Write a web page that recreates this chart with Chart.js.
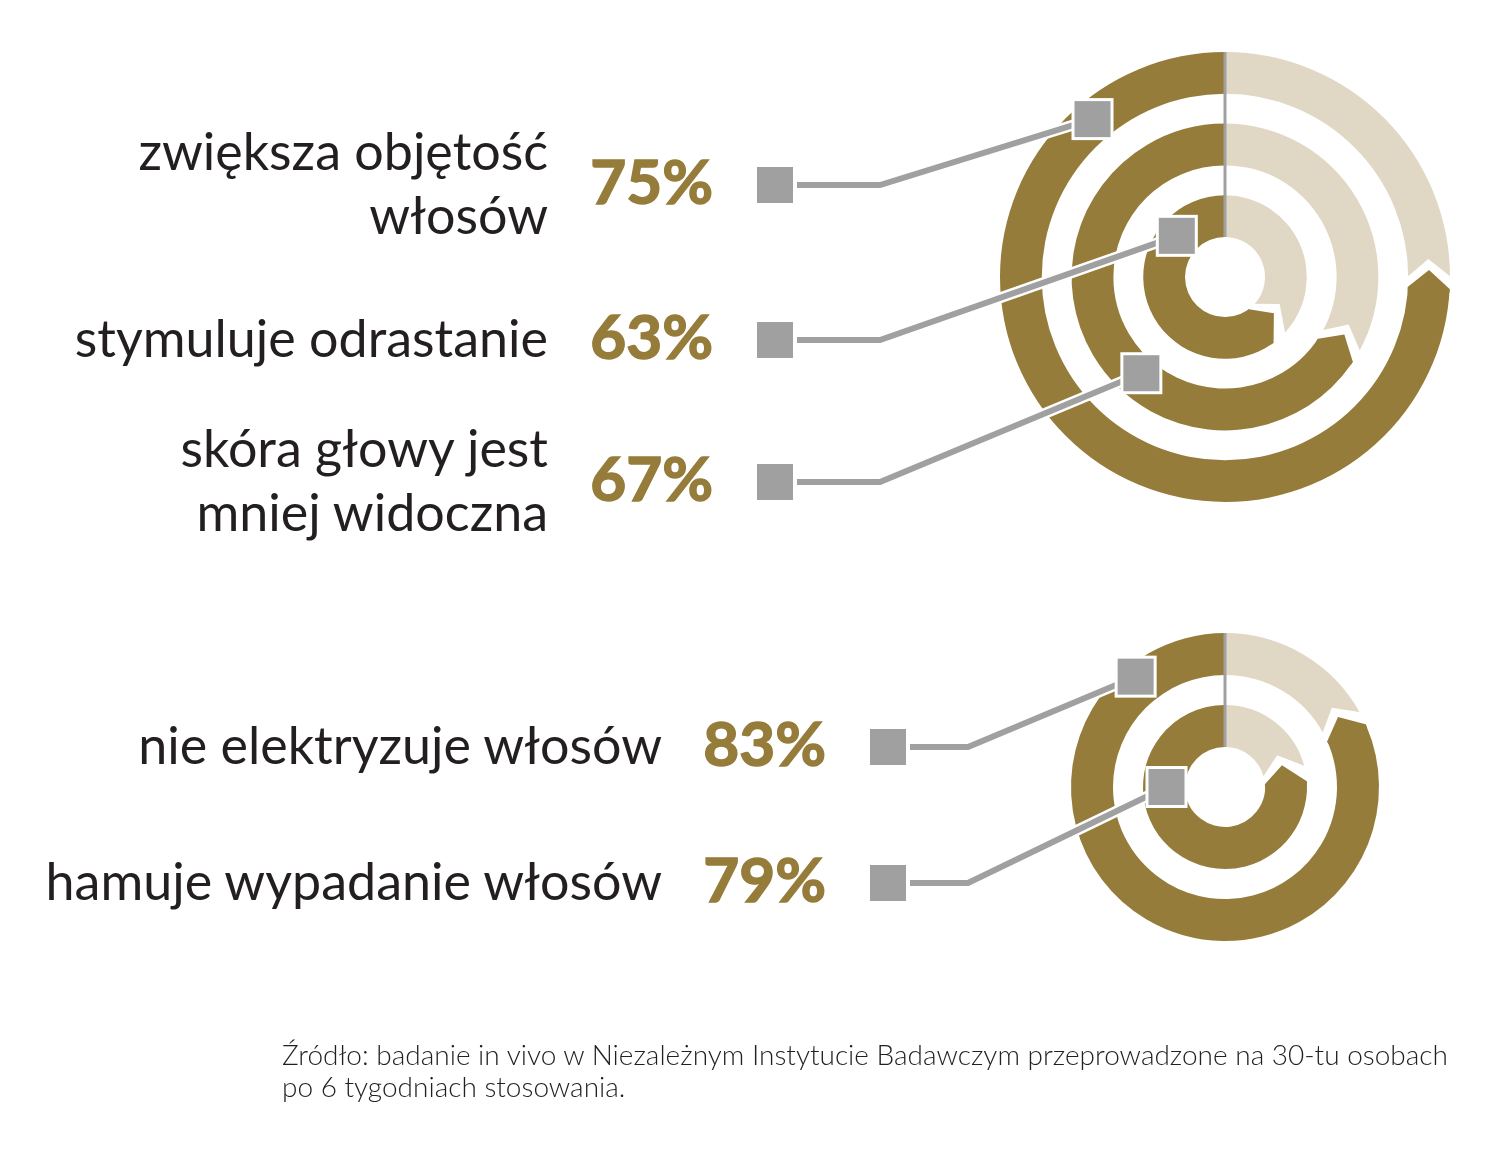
<!DOCTYPE html>
<html>
<head>
<meta charset="utf-8">
<script src="https://cdn.jsdelivr.net/npm/chart.js@4.4.1/dist/chart.umd.min.js"></script>
<style>
  html, body { margin: 0; padding: 0; background: #fff; }
  #page { position: relative; width: 1500px; height: 1161px; overflow: hidden; }
  canvas { position: absolute; left: 0; }
  #topChart { top: 0; width: 1500px; height: 560px; }
  #bottomChart { top: 560px; width: 1500px; height: 440px; }
  #texts { position: absolute; left: 0; top: 0; font-family: Lato, "Open Sans", sans-serif; }
</style>
</head>
<body>
<div id="page">
  <canvas id="topChart" width="1500" height="560"></canvas>
  <canvas id="bottomChart" width="1500" height="440"></canvas>
  <svg id="texts" width="1500" height="1161" xmlns="http://www.w3.org/2000/svg"></svg>
</div>
<script>
// rows as they stand in the picture, top to bottom
const topLabels = [['zwiększa objętość', 'włosów'], ['stymuluje odrastanie'], ['skóra głowy jest', 'mniej widoczna']];
const topValues = [75, 63, 67];
const topRings = [0, 2, 1];   // ring of each row, 0 = outer

const bottomLabels = [['nie elektryzuje włosów'], ['hamuje wypadanie włosów']];
const bottomValues = [83, 79];
const bottomRings = [0, 1];

const sourceLines = [
  'Źródło: badanie in vivo w Niezależnym Instytucie Badawczym przeprowadzone na 30-tu osobach',
  'po 6 tygodniach stosowania.'
];

const BROWN = '#967c3a';
const LIGHT = '#e0d8c4';
const GREY = '#a0a0a0';
const INK = '#231f20';

// one ring per value, white spacer rings between them
function buildDatasets(values, rings) {
  const byRing = [];
  rings.forEach((r, i) => { byRing[r] = values[i]; });
  const sets = [];
  byRing.forEach((v, r) => {
    if (r > 0) sets.push({ data: [1], backgroundColor: 'rgba(0,0,0,0)', weight: 30, spacer: true });
    sets.push({ data: [100 - v, v], backgroundColor: [LIGHT, BROWN], weight: 42 });
  });
  return sets;
}

function poly(ctx, pts, color) {
  ctx.beginPath();
  ctx.moveTo(pts[0][0], pts[0][1]);
  for (let i = 1; i < pts.length; i++) ctx.lineTo(pts[i][0], pts[i][1]);
  ctx.closePath();
  ctx.fillStyle = color;
  ctx.fill();
}

const ringPlugin = {
  id: 'rings',
  afterDatasetsDraw(chart, args, o) {
    const ctx = chart.ctx;
    const sets = chart.data.datasets;
    const metas = sets.map((d, i) => chart.getDatasetMeta(i)).filter((m, i) => !sets[i].spacer);
    ctx.save();

    // arrow heads: brown tip pointing back into the light part
    metas.forEach(m => {
      const a = m.data[1];
      const x = a.x, y = a.y, r0 = a.innerRadius, r1 = a.outerRadius, th = a.startAngle;
      const rm = (r0 + r1) / 2;
      const d = o.tipDepth / rm, g = o.tipGap / rm, e = 3 / rm;
      const P = (r, ang) => [x + r * Math.cos(ang), y + r * Math.sin(ang)];
      poly(ctx, [P(r0 - 1, th + g), P(r0 - 1, th), P(rm, th - d), P(r1 + 1, th), P(r1 + 1, th + g)], '#fff');
      poly(ctx, [P(r0, th + g + e), P(r0, th + g), P(rm, th + g - d), P(r1, th + g), P(r1, th + g + e)], BROWN);
    });

    // grey divider at 12 o'clock
    const outer = metas[0].data[0], inner = metas[metas.length - 1].data[0];
    ctx.strokeStyle = GREY;
    ctx.lineWidth = 3;
    ctx.beginPath();
    ctx.moveTo(outer.x, outer.y - outer.outerRadius);
    ctx.lineTo(outer.x, outer.y - inner.innerRadius);
    ctx.stroke();

    // connectors from the labels to the rings
    const boxes = [];
    o.rows.forEach((rowY, i) => {
      const y0 = rowY - o.offsetTop;
      const a = chart.getDatasetMeta(o.rings[i] * 2).data[0];
      const rr = (a.innerRadius + a.outerRadius) / 2 + o.anchors[i].dr;
      const ang = (o.anchors[i].deg - 90) * Math.PI / 180;
      const bx = a.x + rr * Math.cos(ang), by = a.y + rr * Math.sin(ang);
      boxes.push([bx, by]);

      ctx.fillStyle = GREY;
      ctx.fillRect(o.squareX, y0 - 18, 36, 36);

      [['#fff', 11], [GREY, 6]].forEach(([c, w]) => {
        ctx.strokeStyle = c;
        ctx.lineWidth = w;
        ctx.lineJoin = 'miter';
        ctx.beginPath();
        ctx.moveTo(o.squareX + 40, y0);
        ctx.lineTo(o.elbowX, y0);
        ctx.lineTo(bx, by);
        ctx.stroke();
      });
    });
    boxes.forEach(([bx, by]) => {
      ctx.fillStyle = '#fff';
      ctx.fillRect(bx - 21, by - 21, 42, 42);
      ctx.fillStyle = GREY;
      ctx.fillRect(bx - 18, by - 18, 36, 36);
    });
    ctx.restore();
  }
};

function makeChart(id, values, rings, padding, extra) {
  return new Chart(document.getElementById(id), {
    type: 'doughnut',
    data: { datasets: buildDatasets(values, rings) },
    plugins: [ringPlugin],
    options: {
      responsive: false,
      animation: false,
      events: [],
      cutout: 40,
      rotation: 0,
      borderWidth: 0,
      elements: { arc: { borderWidth: 0 } },
      layout: { padding: padding },
      plugins: {
        legend: { display: false },
        tooltip: { enabled: false },
        rings: Object.assign({ tipDepth: 18, tipGap: 11, rings: rings }, extra)
      }
    }
  });
}

makeChart('topChart', topValues, topRings,
  { left: 1000, right: 50, top: 52, bottom: 58 },
  {
    offsetTop: 0, rows: [185, 340, 482], squareX: 757, elbowX: 880,
    anchors: [{ deg: 320, dr: 2 }, { deg: 310.5, dr: 2.5 }, { deg: 221, dr: -5 }]
  });

makeChart('bottomChart', bottomValues, bottomRings,
  { left: 1071, right: 121, top: 73, bottom: 59 },
  {
    offsetTop: 560, rows: [747, 883], squareX: 870, elbowX: 968,
    anchors: [{ deg: 321, dr: 9 }, { deg: 270, dr: -2.5 }]
  });

// texts
const svg = document.getElementById('texts');
function addText(str, x, y, attrs) {
  const t = document.createElementNS('http://www.w3.org/2000/svg', 'text');
  t.setAttribute('x', x);
  t.setAttribute('y', y);
  Object.entries(attrs).forEach(([k, v]) => t.setAttribute(k, v));
  t.textContent = str;
  svg.appendChild(t);
  return t;
}

function addRows(labels, values, rows, labelRight, pctRight) {
  labels.forEach((lines, i) => {
    const base = rows[i] + 17 - (lines.length - 1) * 32;
    lines.forEach((ln, j) => {
      addText(ln, labelRight, base + j * 64, { 'text-anchor': 'end', 'font-size': 52, fill: INK });
    });
    addText(values[i] + '%', pctRight, rows[i] + 19,
      { 'text-anchor': 'end', 'font-size': 62, 'font-weight': 700, fill: BROWN,
        stroke: BROWN, 'stroke-width': 1.5 });
  });
}

addRows(topLabels, topValues, [185, 340, 482], 548, 713);
addRows(bottomLabels, bottomValues, [747, 883], 662, 826);

sourceLines.forEach((ln, i) => {
  addText(ln, 282, 1065 + i * 32, { 'font-size': 28, 'font-weight': 300, fill: INK });
});
</script>
</body>
</html>
